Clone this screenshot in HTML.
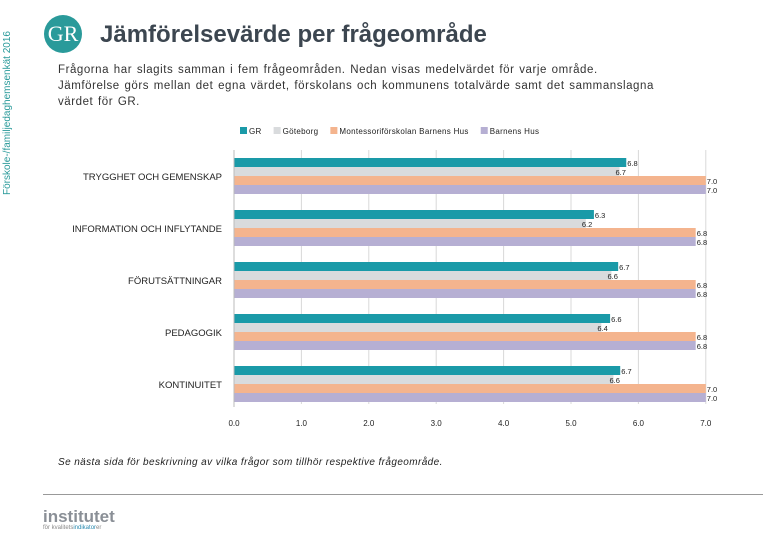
<!DOCTYPE html>
<html><head><meta charset="utf-8"><style>
body{margin:0;width:780px;height:540px;background:#fff;font-family:"Liberation Sans",sans-serif;position:relative;overflow:hidden}
.abs{position:absolute}
</style></head><body>
<div class="abs" style="left:2px;top:195px;transform:rotate(-90deg);transform-origin:0 0;font-size:10px;color:#2a9a9a;white-space:nowrap;width:200px">Förskole-/familjedaghemsenkät 2016</div>
<div class="abs" style="left:44px;top:15px;width:38px;height:38px;border-radius:50%;background:#2a9a9a;color:#fff;font-family:'Liberation Serif',serif;font-size:22px;line-height:38px;text-align:center">GR</div>
<div class="abs" style="left:100px;top:21px;font-size:24px;font-weight:bold;color:#3c4650">Jämförelsevärde per frågeområde</div>
<div class="abs" style="left:58px;top:62px;width:672px;font-size:11.5px;letter-spacing:0.55px;word-spacing:1px;line-height:16px;color:#333">Frågorna har slagits samman i fem frågeområden. Nedan visas medelvärdet för varje område.<br>Jämförelse görs mellan det egna värdet, förskolans och kommunens totalvärde samt det sammanslagna<br>värdet för GR.</div>
<svg class="abs" style="left:0;top:0" width="780" height="540">
<g id="legend"></g><g id="grid"></g><g id="bars"></g><g id="axis"></g>
</svg>
<div class="abs" style="left:58px;top:457px;font-size:10px;letter-spacing:0.4px;font-style:italic;color:#222">Se nästa sida för beskrivning av vilka frågor som tillhör respektive frågeområde.</div>
<div class="abs" style="left:43px;top:494px;width:720px;height:1px;background:#999"></div>
<div class="abs" style="left:43px;top:508px;font-size:17px;font-weight:bold;color:#8a8f96;line-height:17px">institutet<div style="font-size:6px;font-weight:normal;line-height:7px;color:#888">för kvalitets<span style="color:#2a8ab0">indikator</span>er</div></div>
<script>
const categories=["TRYGGHET OCH GEMENSKAP","INFORMATION OCH INFLYTANDE","FÖRUTSÄTTNINGAR","PEDAGOGIK","KONTINUITET"];
const seriesNames=["GR","Göteborg","Montessoriförskolan Barnens Hus","Barnens Hus"];
const colors=["#1a9aa8","#d9dbdd","#f4b48e","#b6afd3"];
const grVals=[5.82,5.34,5.7,5.58,5.73];
const gbgVals=[5.72,5.22,5.6,5.45,5.63];
const montVals=[7.0,6.85,6.85,6.85,7.0];
const bhVals=[7.0,6.85,6.85,6.85,7.0];
const grLabels=["6.8","6.3","6.7","6.6","6.7"];
const gbgLabels=["6.7","6.2","6.6","6.4","6.6"];
const montLabels=["7.0","6.8","6.8","6.8","7.0"];
const bhLabels=["7.0","6.8","6.8","6.8","7.0"];
const ticks=["0.0","1.0","2.0","3.0","4.0","5.0","6.0","7.0"];
const NS="http://www.w3.org/2000/svg";
const x0=234,pxPer=67.4,top0=158,grpStep=52,barH=9,axisY=404;
const xs=v=>x0+v*pxPer;
function mk(t,a,p){const e=document.createElementNS(NS,t);for(const k in a)e.setAttribute(k,a[k]);p.appendChild(e);return e;}
const grid=document.getElementById('grid'),bars=document.getElementById('bars'),axis=document.getElementById('axis'),legend=document.getElementById('legend');
ticks.forEach((t,i)=>{
  const gl=mk('line',{x1:xs(i),x2:xs(i),y1:150,y2:axisY,stroke:'#d8d8d8'},grid);
  
  
  const tl=mk('text',{x:xs(i),y:426,'text-anchor':'middle','font-size':8,fill:'#222'},axis);
  tl.textContent=t;
  
  
});
const al=mk('line',{x1:x0,x2:x0,y1:150,y2:axisY+3,stroke:'#bbb'},axis);


const allVals=[grVals,gbgVals,montVals,bhVals],allLabels=[grLabels,gbgLabels,montLabels,bhLabels];
categories.forEach((c,g)=>{
  const gy=top0+g*grpStep;
  const cl=mk('text',{x:222,y:gy+22,'text-anchor':'end','font-size':9.5,fill:'#222'},axis);
  cl.textContent=c;
  
  
  allVals.forEach((vals,s)=>{
    const y=gy+s*barH;
    const r=mk('rect',{x:x0,y:y,width:xs(vals[g])-x0,height:barH,fill:colors[s]},bars);
    
    
    const vl=mk('text',{x:xs(vals[g])+(s===1?-4:1),y:y+8,'font-size':7.5,fill:'#222'},bars);
    vl.textContent=allLabels[s][g];
    
    
  });
});
let lx=240;
seriesNames.forEach((n,i)=>{
  const sw=mk('rect',{x:lx,y:127,width:7,height:7,fill:colors[i]},legend);
  
  
  const t=mk('text',{x:lx+9,y:134,'font-size':8,'letter-spacing':0.3,fill:'#222'},legend);
  t.textContent=n;
  
  
  lx+=9+t.getComputedTextLength()+12;
});
</script>
</body></html>
